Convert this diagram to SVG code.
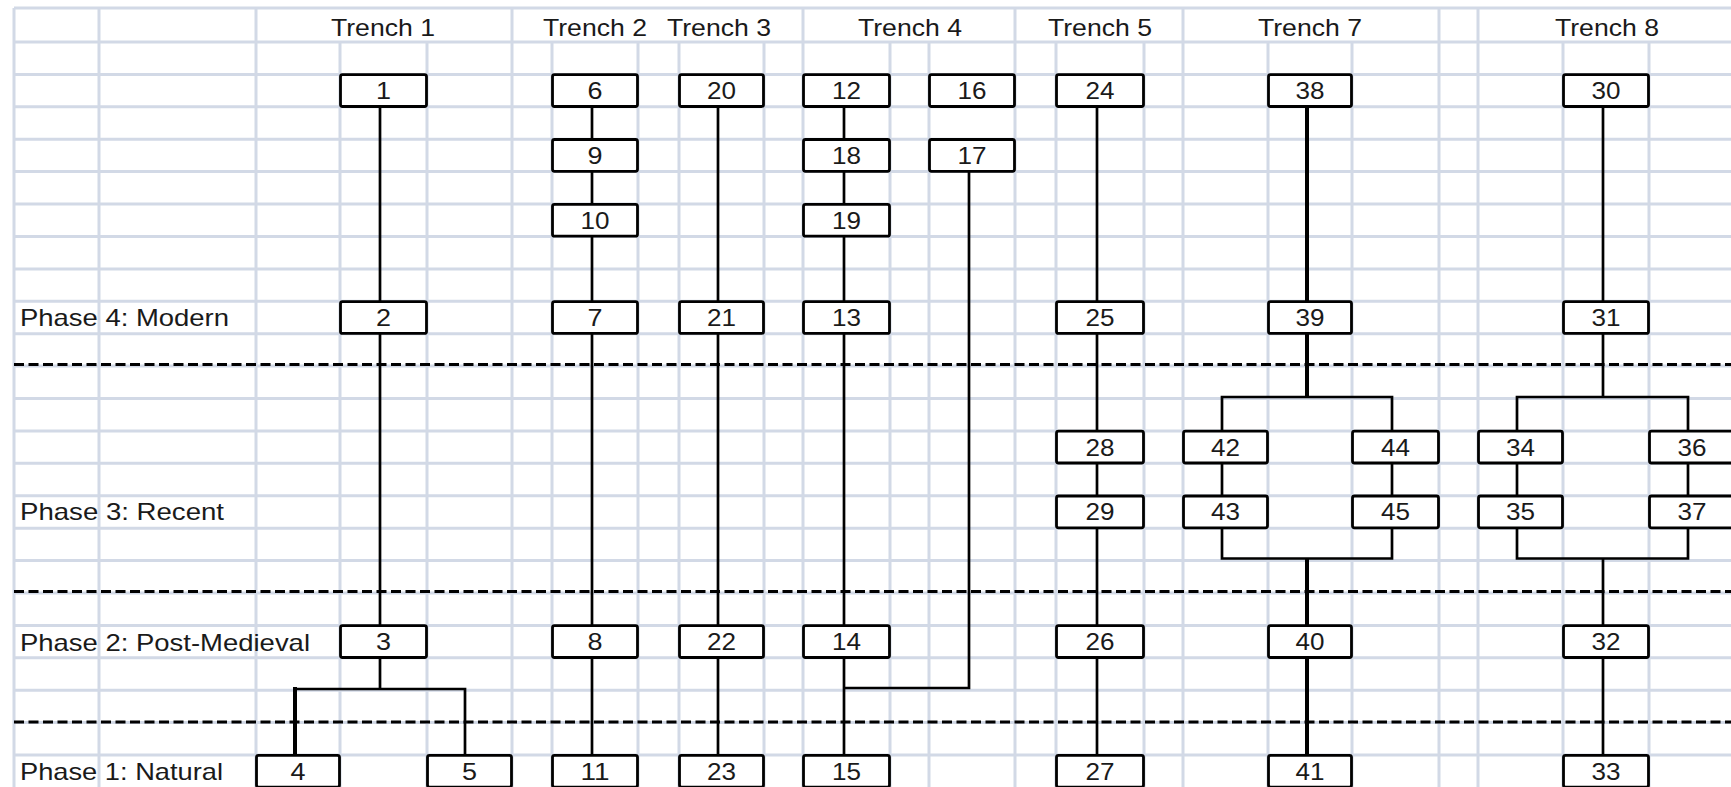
<svg xmlns="http://www.w3.org/2000/svg" width="1731" height="787" viewBox="0 0 1731 787">
<style>
.grid{stroke:#D2D9E6;stroke-width:3;fill:none}
.dash{stroke:#000;stroke-width:3;stroke-dasharray:10 4.5;fill:none}
.conn{stroke:#000;stroke-width:2.7;fill:none;stroke-linejoin:miter}
.thick{stroke:#000;stroke-width:4;fill:none}
.node rect{fill:#fff;stroke:#000;stroke-width:2.8}
text{font-family:"Liberation Sans",Arial,sans-serif;font-size:24px;fill:#1a1a1a}
.node text{text-anchor:middle}
.hdr{text-anchor:middle}
</style>
<rect x="0" y="0" width="1731" height="787" fill="#fff"/>
<g id="grid" class="grid">
<path d="M14 8H1731M14 42H1731M14 74.4H1731M14 106.8H1731M14 139.2H1731M14 171.6H1731M14 204.1H1731M14 236.5H1731M14 268.9H1731M14 301.3H1731M14 333.7H1731M14 366.1H1731M14 398.5H1731M14 430.9H1731M14 463.3H1731M14 495.7H1731M14 528.2H1731M14 560.6H1731M14 593H1731M14 625.4H1731M14 657.8H1731M14 690.2H1731M14 722.6H1731M14 755H1731"/>
<path d="M14 8V787M99 8V787M256 8V787M512 8V787M803 8V787M1015 8V787M1183 8V787M1439 8V787M1478 8V787"/>
<path d="M340 42V787M427 42V787M552 42V787M638 42V787M679 42V787M764 42V787M890 42V787M929 42V787M1056 42V787M1144 42V787M1268 42V787M1352 42V787M1563 42V787M1649 42V787"/>
</g>
<g id="headers">
<text class="hdr" x="383" y="35.5" textLength="104" lengthAdjust="spacingAndGlyphs">Trench 1</text>
<text class="hdr" x="595" y="35.5" textLength="104" lengthAdjust="spacingAndGlyphs">Trench 2</text>
<text class="hdr" x="719" y="35.5" textLength="104" lengthAdjust="spacingAndGlyphs">Trench 3</text>
<text class="hdr" x="910" y="35.5" textLength="104" lengthAdjust="spacingAndGlyphs">Trench 4</text>
<text class="hdr" x="1100" y="35.5" textLength="104" lengthAdjust="spacingAndGlyphs">Trench 5</text>
<text class="hdr" x="1310" y="35.5" textLength="104" lengthAdjust="spacingAndGlyphs">Trench 7</text>
<text class="hdr" x="1607" y="35.5" textLength="104" lengthAdjust="spacingAndGlyphs">Trench 8</text>
</g>
<g id="phases">
<text x="20" y="326" textLength="209" lengthAdjust="spacingAndGlyphs">Phase 4: Modern</text>
<text x="20" y="520" textLength="204" lengthAdjust="spacingAndGlyphs">Phase 3: Recent</text>
<text x="20" y="650.5" textLength="290" lengthAdjust="spacingAndGlyphs">Phase 2: Post-Medieval</text>
<text x="20" y="780" textLength="203" lengthAdjust="spacingAndGlyphs">Phase 1: Natural</text>
</g>
<g id="phase-dividers" class="dash">
<path d="M14 364.5H1731M14 591.5H1731M14 722H1731"/>
</g>
<g id="connectors">
<path class="conn" d="M380 106.8V301.3M380 333.7V625.4M380 657.8V689M295 689H465V755"/>
<path class="thick" d="M295 687V755"/>
<path class="conn" d="M592 106.8V755"/>
<path class="conn" d="M718 106.8V755"/>
<path class="conn" d="M844 106.8V755M969 171.6V688H844"/>
<path class="conn" d="M1097 106.8V755"/>
<path class="thick" d="M1307 106.8V397M1307 558.5V755"/>
<path class="conn" d="M1222 430.9V397H1392V430.9M1222 463.3V495.7M1392 463.3V495.7M1222 528.2V558.5H1392V528.2"/>
<path class="conn" d="M1603 106.8V397M1517 430.9V397H1688V430.9M1517 463.3V495.7M1688 463.3V495.7M1517 528.2V558.5H1688V528.2M1603 558.5V755"/>
</g>
<g id="n1" class="node"><rect x="340.5" y="74.7" width="86" height="31.8" rx="2"/><text x="383.5" y="99.1" textLength="15" lengthAdjust="spacingAndGlyphs">1</text></g>
<g id="n2" class="node"><rect x="340.5" y="301.6" width="86" height="31.8" rx="2"/><text x="383.5" y="326" textLength="15" lengthAdjust="spacingAndGlyphs">2</text></g>
<g id="n3" class="node"><rect x="340.5" y="625.7" width="86" height="31.8" rx="2"/><text x="383.5" y="650.1" textLength="15" lengthAdjust="spacingAndGlyphs">3</text></g>
<g id="n4" class="node"><rect x="256.5" y="755.3" width="83" height="31.8" rx="2"/><text x="298" y="779.7" textLength="15" lengthAdjust="spacingAndGlyphs">4</text></g>
<g id="n5" class="node"><rect x="427.5" y="755.3" width="84" height="31.8" rx="2"/><text x="469.5" y="779.7" textLength="15" lengthAdjust="spacingAndGlyphs">5</text></g>
<g id="n6" class="node"><rect x="552.5" y="74.7" width="85" height="31.8" rx="2"/><text x="595" y="99.1" textLength="15" lengthAdjust="spacingAndGlyphs">6</text></g>
<g id="n9" class="node"><rect x="552.5" y="139.5" width="85" height="31.8" rx="2"/><text x="595" y="163.9" textLength="15" lengthAdjust="spacingAndGlyphs">9</text></g>
<g id="n10" class="node"><rect x="552.5" y="204.4" width="85" height="31.8" rx="2"/><text x="595" y="228.8" textLength="29" lengthAdjust="spacingAndGlyphs">10</text></g>
<g id="n7" class="node"><rect x="552.5" y="301.6" width="85" height="31.8" rx="2"/><text x="595" y="326" textLength="15" lengthAdjust="spacingAndGlyphs">7</text></g>
<g id="n8" class="node"><rect x="552.5" y="625.7" width="85" height="31.8" rx="2"/><text x="595" y="650.1" textLength="15" lengthAdjust="spacingAndGlyphs">8</text></g>
<g id="n11" class="node"><rect x="552.5" y="755.3" width="85" height="31.8" rx="2"/><text x="595" y="779.7" textLength="29" lengthAdjust="spacingAndGlyphs">11</text></g>
<g id="n20" class="node"><rect x="679.5" y="74.7" width="84" height="31.8" rx="2"/><text x="721.5" y="99.1" textLength="29" lengthAdjust="spacingAndGlyphs">20</text></g>
<g id="n21" class="node"><rect x="679.5" y="301.6" width="84" height="31.8" rx="2"/><text x="721.5" y="326" textLength="29" lengthAdjust="spacingAndGlyphs">21</text></g>
<g id="n22" class="node"><rect x="679.5" y="625.7" width="84" height="31.8" rx="2"/><text x="721.5" y="650.1" textLength="29" lengthAdjust="spacingAndGlyphs">22</text></g>
<g id="n23" class="node"><rect x="679.5" y="755.3" width="84" height="31.8" rx="2"/><text x="721.5" y="779.7" textLength="29" lengthAdjust="spacingAndGlyphs">23</text></g>
<g id="n12" class="node"><rect x="803.5" y="74.7" width="86" height="31.8" rx="2"/><text x="846.5" y="99.1" textLength="29" lengthAdjust="spacingAndGlyphs">12</text></g>
<g id="n18" class="node"><rect x="803.5" y="139.5" width="86" height="31.8" rx="2"/><text x="846.5" y="163.9" textLength="29" lengthAdjust="spacingAndGlyphs">18</text></g>
<g id="n19" class="node"><rect x="803.5" y="204.4" width="86" height="31.8" rx="2"/><text x="846.5" y="228.8" textLength="29" lengthAdjust="spacingAndGlyphs">19</text></g>
<g id="n13" class="node"><rect x="803.5" y="301.6" width="86" height="31.8" rx="2"/><text x="846.5" y="326" textLength="29" lengthAdjust="spacingAndGlyphs">13</text></g>
<g id="n14" class="node"><rect x="803.5" y="625.7" width="86" height="31.8" rx="2"/><text x="846.5" y="650.1" textLength="29" lengthAdjust="spacingAndGlyphs">14</text></g>
<g id="n15" class="node"><rect x="803.5" y="755.3" width="86" height="31.8" rx="2"/><text x="846.5" y="779.7" textLength="29" lengthAdjust="spacingAndGlyphs">15</text></g>
<g id="n16" class="node"><rect x="929.5" y="74.7" width="85" height="31.8" rx="2"/><text x="972" y="99.1" textLength="29" lengthAdjust="spacingAndGlyphs">16</text></g>
<g id="n17" class="node"><rect x="929.5" y="139.5" width="85" height="31.8" rx="2"/><text x="972" y="163.9" textLength="29" lengthAdjust="spacingAndGlyphs">17</text></g>
<g id="n24" class="node"><rect x="1056.5" y="74.7" width="87" height="31.8" rx="2"/><text x="1100" y="99.1" textLength="29" lengthAdjust="spacingAndGlyphs">24</text></g>
<g id="n25" class="node"><rect x="1056.5" y="301.6" width="87" height="31.8" rx="2"/><text x="1100" y="326" textLength="29" lengthAdjust="spacingAndGlyphs">25</text></g>
<g id="n28" class="node"><rect x="1056.5" y="431.2" width="87" height="31.8" rx="2"/><text x="1100" y="455.6" textLength="29" lengthAdjust="spacingAndGlyphs">28</text></g>
<g id="n29" class="node"><rect x="1056.5" y="496" width="87" height="31.8" rx="2"/><text x="1100" y="520.4" textLength="29" lengthAdjust="spacingAndGlyphs">29</text></g>
<g id="n26" class="node"><rect x="1056.5" y="625.7" width="87" height="31.8" rx="2"/><text x="1100" y="650.1" textLength="29" lengthAdjust="spacingAndGlyphs">26</text></g>
<g id="n27" class="node"><rect x="1056.5" y="755.3" width="87" height="31.8" rx="2"/><text x="1100" y="779.7" textLength="29" lengthAdjust="spacingAndGlyphs">27</text></g>
<g id="n38" class="node"><rect x="1268.5" y="74.7" width="83" height="31.8" rx="2"/><text x="1310" y="99.1" textLength="29" lengthAdjust="spacingAndGlyphs">38</text></g>
<g id="n39" class="node"><rect x="1268.5" y="301.6" width="83" height="31.8" rx="2"/><text x="1310" y="326" textLength="29" lengthAdjust="spacingAndGlyphs">39</text></g>
<g id="n42" class="node"><rect x="1183.5" y="431.2" width="84" height="31.8" rx="2"/><text x="1225.5" y="455.6" textLength="29" lengthAdjust="spacingAndGlyphs">42</text></g>
<g id="n44" class="node"><rect x="1352.5" y="431.2" width="86" height="31.8" rx="2"/><text x="1395.5" y="455.6" textLength="29" lengthAdjust="spacingAndGlyphs">44</text></g>
<g id="n43" class="node"><rect x="1183.5" y="496" width="84" height="31.8" rx="2"/><text x="1225.5" y="520.4" textLength="29" lengthAdjust="spacingAndGlyphs">43</text></g>
<g id="n45" class="node"><rect x="1352.5" y="496" width="86" height="31.8" rx="2"/><text x="1395.5" y="520.4" textLength="29" lengthAdjust="spacingAndGlyphs">45</text></g>
<g id="n40" class="node"><rect x="1268.5" y="625.7" width="83" height="31.8" rx="2"/><text x="1310" y="650.1" textLength="29" lengthAdjust="spacingAndGlyphs">40</text></g>
<g id="n41" class="node"><rect x="1268.5" y="755.3" width="83" height="31.8" rx="2"/><text x="1310" y="779.7" textLength="29" lengthAdjust="spacingAndGlyphs">41</text></g>
<g id="n30" class="node"><rect x="1563.5" y="74.7" width="85" height="31.8" rx="2"/><text x="1606" y="99.1" textLength="29" lengthAdjust="spacingAndGlyphs">30</text></g>
<g id="n31" class="node"><rect x="1563.5" y="301.6" width="85" height="31.8" rx="2"/><text x="1606" y="326" textLength="29" lengthAdjust="spacingAndGlyphs">31</text></g>
<g id="n34" class="node"><rect x="1478.5" y="431.2" width="84" height="31.8" rx="2"/><text x="1520.5" y="455.6" textLength="29" lengthAdjust="spacingAndGlyphs">34</text></g>
<g id="n36" class="node"><rect x="1649.5" y="431.2" width="85" height="31.8" rx="2"/><text x="1692" y="455.6" textLength="29" lengthAdjust="spacingAndGlyphs">36</text></g>
<g id="n35" class="node"><rect x="1478.5" y="496" width="84" height="31.8" rx="2"/><text x="1520.5" y="520.4" textLength="29" lengthAdjust="spacingAndGlyphs">35</text></g>
<g id="n37" class="node"><rect x="1649.5" y="496" width="85" height="31.8" rx="2"/><text x="1692" y="520.4" textLength="29" lengthAdjust="spacingAndGlyphs">37</text></g>
<g id="n32" class="node"><rect x="1563.5" y="625.7" width="85" height="31.8" rx="2"/><text x="1606" y="650.1" textLength="29" lengthAdjust="spacingAndGlyphs">32</text></g>
<g id="n33" class="node"><rect x="1563.5" y="755.3" width="85" height="31.8" rx="2"/><text x="1606" y="779.7" textLength="29" lengthAdjust="spacingAndGlyphs">33</text></g>
</svg>
